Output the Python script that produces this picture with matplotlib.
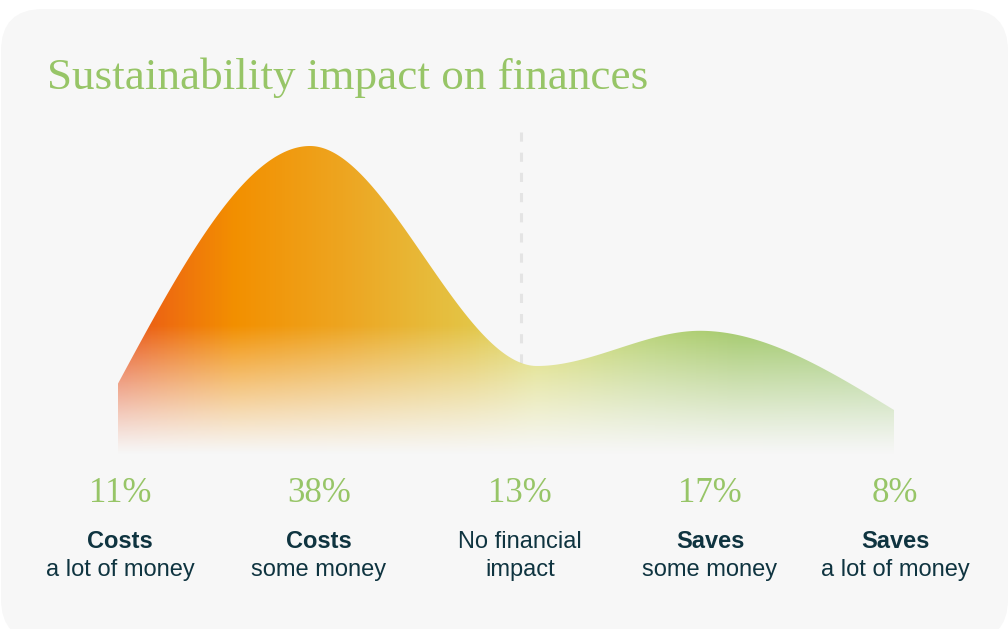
import numpy as np
import matplotlib.pyplot as plt
from matplotlib.colors import LinearSegmentedColormap
from matplotlib.patches import FancyBboxPatch, Polygon

# data
label_top = ["Costs", "Costs", "No financial", "Saves", "Saves"]
top_bold = [True, True, False, True, True]
label_bottom = ["a lot of money", "some money", "impact", "some money", "a lot of money"]
shares = [11, 38, 13, 17, 8]
pct_labels = [f"{v}%" for v in shares]

# layout (pixels)
W, H = 1008, 629
slot_x = [120, 319, 520, 710, 895]     # label columns
knot_x = [118, 310, 537, 700, 894]     # curve knots
divider_x = 521
px_per_pct = 8.8
base_px = 480.4
y_top = 42

GREEN = "#97c567"
INK = "#0f3440"
BG = "#f7f7f7"

fig = plt.figure(figsize=(W / 100, H / 100), dpi=100)
fig.patch.set_facecolor("white")

# overlay axes in pixel units for card + text
ax = fig.add_axes([0, 0, 1, 1])
ax.set_xlim(0, W)
ax.set_ylim(H, 0)
ax.axis("off")
r = 42
ax.add_patch(FancyBboxPatch((1 + r, 9 + r), W - 1 - 2 * r, 641 - 9 - 2 * r,
                            boxstyle=f"round,pad={r}", fc=BG, ec="none", zorder=0))

# chart axes: values in percent
cx = fig.add_axes([0, (H - base_px) / H, 1, y_top * px_per_pct / H])
cx.set_xlim(0, W)
cx.set_ylim(0, y_top)
cx.axis("off")
cx.patch.set_alpha(0)


# monotone cubic (same rule as d3.curveMonotoneX)
def monotone(xs, ys, n=120):
    xs = np.asarray(xs, float)
    ys = np.asarray(ys, float)
    h = np.diff(xs)
    s = np.diff(ys) / h
    m = np.zeros_like(ys)
    for i in range(1, len(xs) - 1):
        p = (s[i - 1] * h[i] + s[i] * h[i - 1]) / (h[i - 1] + h[i])
        m[i] = (np.sign(s[i - 1]) + np.sign(s[i])) * min(abs(s[i - 1]), abs(s[i]), 0.5 * abs(p))
    m[0] = (3 * s[0] - m[1]) / 2
    m[-1] = (3 * s[-1] - m[-2]) / 2
    X, Y = [], []
    for i in range(len(xs) - 1):
        t = np.linspace(0, 1, n)
        h00 = 2 * t**3 - 3 * t**2 + 1
        h10 = t**3 - 2 * t**2 + t
        h01 = -2 * t**3 + 3 * t**2
        h11 = t**3 - t**2
        X.append(xs[i] + t * h[i])
        Y.append(h00 * ys[i] + h10 * h[i] * m[i] + h01 * ys[i + 1] + h11 * h[i] * m[i + 1])
    return np.concatenate(X), np.concatenate(Y)


cxs, cys = monotone(knot_x, shares)

# dashed divider
cx.plot([divider_x, divider_x], [np.interp(divider_x, cxs, cys), 40.4], color="#e4e4e4",
        lw=2.2, dashes=(3.0, 3.6), zorder=1, solid_capstyle="butt")

# gradient fill
cmap = LinearSegmentedColormap.from_list("fin", [
    (0.0, "#e8501a"), (0.06, "#ee6c10"), (0.15, "#f39000"), (0.30, "#eda723"),
    (0.45, "#e4c445"), (0.54, "#dcdc6c"), (0.68, "#b7d273"), (0.80, "#a3c96a"),
    (1.0, "#9dca74")])
nx, ny = 600, 300
gx = np.linspace(0, 1, nx)
gy = np.linspace(0, y_top, ny)
rgba = cmap(gx)[None, :, :].repeat(ny, axis=0)
a = np.clip((gy - 2.8) / (17.5 - 2.8), 0, 1)
a = a ** 1.15
rgba[:, :, 3] = a[:, None]
img = cx.imshow(rgba, extent=[knot_x[0], knot_x[-1], 0, y_top], origin="lower",
                aspect="auto", interpolation="bilinear", zorder=2)
poly = np.vstack([np.column_stack([cxs, cys]), [[knot_x[-1], 0], [knot_x[0], 0]]])
clip = Polygon(poly, closed=True, transform=cx.transData, fc="none", ec="none")
cx.add_patch(clip)
img.set_clip_path(clip)

# title
ax.text(47, 89, "Sustainability impact on finances", color=GREEN,
        fontsize=32.5, family="Liberation Serif", ha="left", va="baseline")

# labels
for x, p, t, b, s in zip(slot_x, pct_labels, label_top, top_bold, label_bottom):
    ax.text(x, 502, p, color=GREEN, fontsize=25, family="Liberation Serif",
            ha="center", va="baseline")
    ax.text(x, 548, t, color=INK, fontsize=17, family="Liberation Sans",
            weight="bold" if b else "normal", ha="center", va="baseline")
    ax.text(x, 576, s, color=INK, fontsize=17, family="Liberation Sans",
            ha="center", va="baseline")

fig.savefig("out.png", dpi=100, facecolor="white")
